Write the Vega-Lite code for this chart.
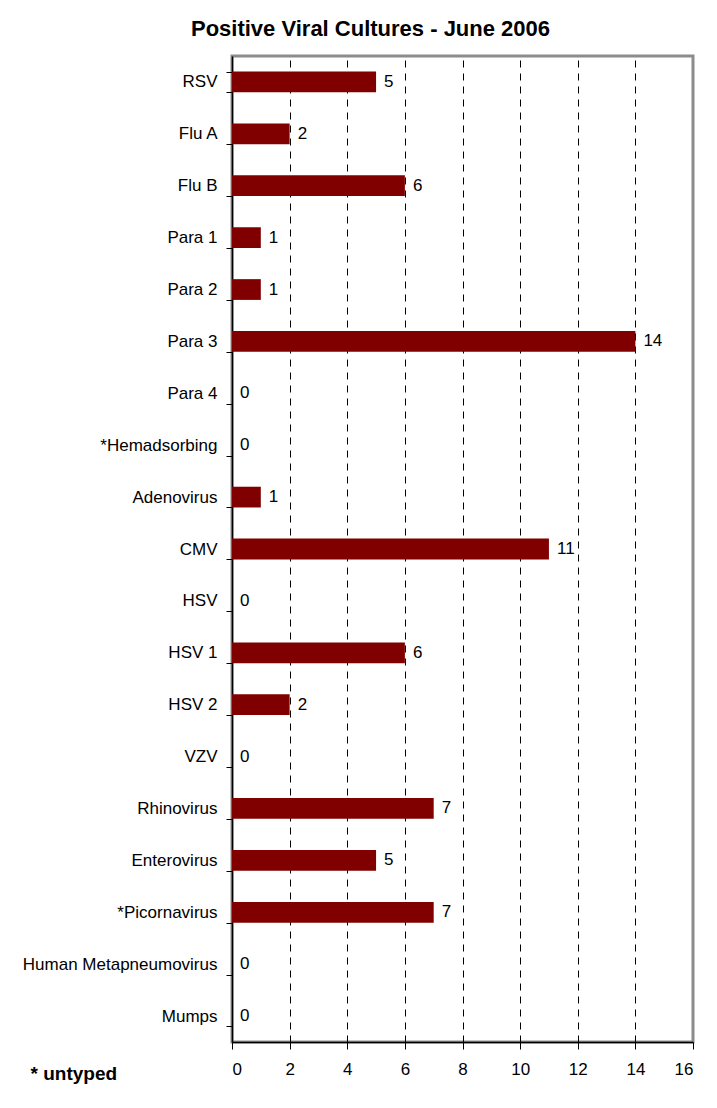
{
  "$schema": "https://vega.github.io/schema/vega-lite/v6.json",
  "autosize": "none",
  "padding": {"left": 232, "top": 56, "right": 24, "bottom": 66},
  "width": 461,
  "height": 986,
  "background": "white",
  "title": {
    "text": "Positive Viral Cultures - June 2006",
    "font": "Liberation Sans",
    "fontSize": 22,
    "fontWeight": "bold",
    "color": "black",
    "anchor": "middle",
    "dx": -92,
    "offset": 6
  },
  "config": {
    "view": {"stroke": "#8c8c8c", "strokeWidth": 3},
    "axis": {
      "labelFont": "Liberation Sans",
      "labelFontSize": 17,
      "labelColor": "black",
      "domainColor": "black",
      "tickColor": "black",
      "titleFont": "Liberation Sans"
    }
  },
  "data": {
    "values": [
      {"virus": "RSV", "count": 5},
      {"virus": "Flu A", "count": 2},
      {"virus": "Flu B", "count": 6},
      {"virus": "Para 1", "count": 1},
      {"virus": "Para 2", "count": 1},
      {"virus": "Para 3", "count": 14},
      {"virus": "Para 4", "count": 0},
      {"virus": "*Hemadsorbing", "count": 0},
      {"virus": "Adenovirus", "count": 1},
      {"virus": "CMV", "count": 11},
      {"virus": "HSV", "count": 0},
      {"virus": "HSV 1", "count": 6},
      {"virus": "HSV 2", "count": 2},
      {"virus": "VZV", "count": 0},
      {"virus": "Rhinovirus", "count": 7},
      {"virus": "Enterovirus", "count": 5},
      {"virus": "*Picornavirus", "count": 7},
      {"virus": "Human Metapneumovirus", "count": 0},
      {"virus": "Mumps", "count": 0}
    ]
  },
  "encoding": {
    "y": {
      "field": "virus",
      "type": "nominal",
      "sort": null,
      "scale": {"paddingInner": 0.6, "paddingOuter": 0.3},
      "axis": {
        "title": null,
        "tickBand": "extent",
        "tickSize": 6,
        "labelPadding": 9,
        "labelLimit": 260,
        "domainWidth": 1.5
      }
    },
    "x": {
      "field": "count",
      "type": "quantitative",
      "scale": {"domain": [0, 16], "nice": false},
      "axis": {
        "values": [0, 2, 4, 6, 8, 10, 12, 14, 16],
        "grid": true,
        "gridColor": {"condition": {"test": "datum.value === 0 || datum.value === 16", "value": "transparent"}, "value": "black"},
        "gridDash": [7, 6],
        "gridWidth": 1,
        "tickSize": 7,
        "labelPadding": 12,
        "domainWidth": 1.5,
        "title": "* untyped",
        "titleFont": "Liberation Sans",
        "titleFontSize": 19,
        "titleFontWeight": "bold",
        "titleColor": "black",
        "titleAnchor": "start",
        "titleAlign": "left",
        "titleBaseline": "middle",
        "titleX": -202,
        "titleY": 31
      }
    }
  },
  "layer": [
    {"mark": {"type": "bar", "color": "#800000"}},
    {
      "mark": {"type": "text", "align": "left", "baseline": "middle", "dx": 8, "font": "Liberation Sans", "fontSize": 17, "color": "black"},
      "encoding": {"text": {"field": "count", "type": "quantitative"}}
    }
  ]
}
